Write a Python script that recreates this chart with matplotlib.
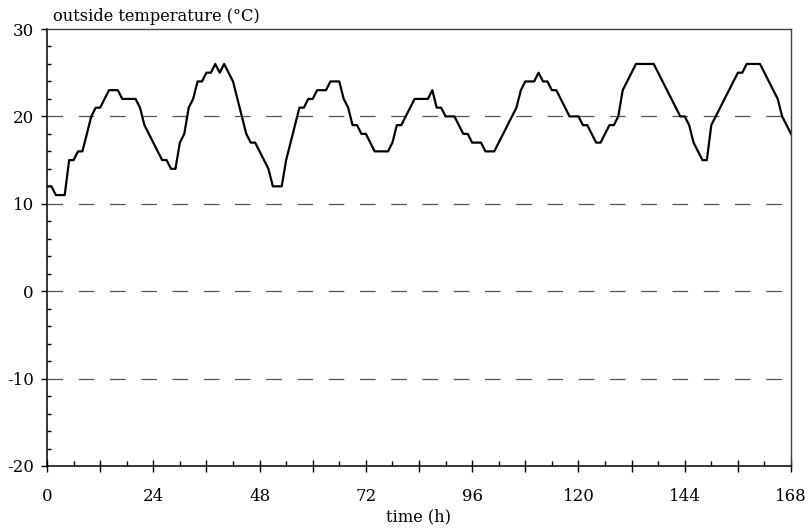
import matplotlib
matplotlib.use('Agg')
import matplotlib.pyplot as plt
from matplotlib.ticker import MultipleLocator, FuncFormatter

# hourly outside temperature over one week
hours = list(range(169))
temps = [12, 12, 11, 11, 11, 15, 15, 16, 16, 18,
         20, 21, 21, 22, 23, 23, 23, 22, 22, 22,
         22, 21, 19, 18, 17, 16, 15, 15, 14, 14,
         17, 18, 21, 22, 24, 24, 25, 25, 26, 25,
         26, 25, 24, 22, 20, 18, 17, 17, 16, 15,
         14, 12, 12, 12, 15, 17, 19, 21, 21, 22,
         22, 23, 23, 23, 24, 24, 24, 22, 21, 19,
         19, 18, 18, 17, 16, 16, 16, 16, 17, 19,
         19, 20, 21, 22, 22, 22, 22, 23, 21, 21,
         20, 20, 20, 19, 18, 18, 17, 17, 17, 16,
         16, 16, 17, 18, 19, 20, 21, 23, 24, 24,
         24, 25, 24, 24, 23, 23, 22, 21, 20, 20,
         20, 19, 19, 18, 17, 17, 18, 19, 19, 20,
         23, 24, 25, 26, 26, 26, 26, 26, 25, 24,
         23, 22, 21, 20, 20, 19, 17, 16, 15, 15,
         19, 20, 21, 22, 23, 24, 25, 25, 26, 26,
         26, 26, 25, 24, 23, 22, 20, 19, 18]

grid_levels = [-10, 0, 10, 20]

plt.rcParams['font.family'] = ['DejaVu Serif']
plt.rcParams['font.size'] = 11.7
plt.rcParams['axes.unicode_minus'] = False

fig = plt.figure(figsize=(8.11, 5.32), dpi=100)
ax = fig.add_axes([47 / 811, 1 - 466 / 532, 744 / 811, 437 / 532])

for g in grid_levels:
    ax.axhline(g, color='#555555', lw=0.9, dashes=(12.5, 12.5), zorder=1)

ax.plot(hours, temps, color='black', lw=1.6, zorder=3)

ax.set_xlim(0, 168)
ax.set_ylim(-20, 30)

ax.xaxis.set_major_locator(MultipleLocator(12))
ax.xaxis.set_minor_locator(MultipleLocator(6))
ax.xaxis.set_major_formatter(FuncFormatter(
    lambda v, p: f'{int(v)}' if int(round(v)) % 24 == 0 else ''))
ax.yaxis.set_major_locator(MultipleLocator(10))
ax.yaxis.set_minor_locator(MultipleLocator(2))

ax.tick_params(axis='x', which='major', direction='inout', length=9, width=1,
               pad=11.5, labelsize=12)
ax.tick_params(axis='x', which='minor', direction='in', length=3.5, width=1)
ax.tick_params(axis='y', which='major', direction='out', length=4.5, width=1,
               pad=5, labelsize=12)
ax.tick_params(axis='y', which='minor', direction='in', length=3, width=1)
ax.tick_params(top=False, right=False, which='both')

for side in ['left', 'bottom']:
    ax.spines[side].set_color('black')
    ax.spines[side].set_linewidth(1.1)
for side in ['top', 'right']:
    ax.spines[side].set_color('#444444')
    ax.spines[side].set_linewidth(1.0)

ax.set_xlabel('time (h)', labelpad=2.5)
fig.text(53 / 811, 1 - 21 / 532, 'outside temperature (°C)', ha='left', va='baseline')

fig.savefig('out.png', dpi=100)
